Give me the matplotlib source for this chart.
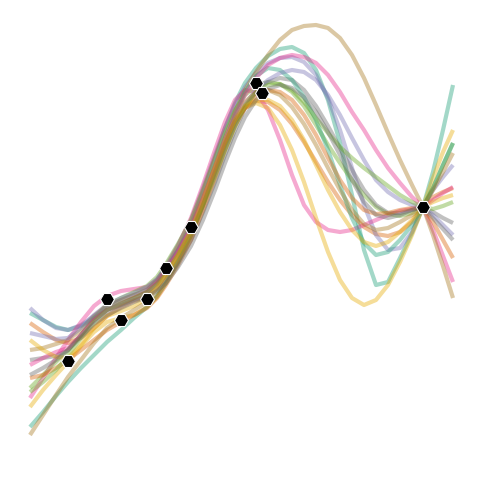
import numpy as np
import matplotlib
matplotlib.use("Agg")
from matplotlib import pyplot as plt

xs = [30, 43, 56, 68, 81, 94, 107, 121, 134, 147, 157, 166, 178, 191, 203, 215,
      225, 235, 245, 256, 268, 280, 292, 304, 316, 328, 340, 352, 364, 376, 388,
      400, 412, 423, 433, 443, 453]

# observed points
obs_x = [68, 107, 121, 147, 166, 191, 256, 262, 423]
obs_y = [361, 299, 320, 299, 268, 227, 83, 93, 207]

# posterior sample curves (screen-style y, larger = lower)
teal_a = [313, 320, 327, 330, 326, 318, 310, 303, 298, 292, 283, 270, 250, 224, 192, 158,
          128, 103, 83, 68, 56, 49, 47, 53, 70, 100, 143, 195, 250, 285, 282,
          258, 233, 207, 172, 130, 85]
orange_a = [323, 332, 340, 343, 338, 328, 316, 307, 301, 296, 287, 275, 255, 230, 200, 168,
            143, 122, 108, 101, 102, 110, 124, 142, 162, 182, 200, 215, 227, 234, 236,
            232, 222, 207, 197, 192, 188]
purple_a = [308, 320, 328, 330, 325, 316, 307, 300, 295, 290, 280, 266, 245, 220, 188, 155,
            128, 105, 87, 73, 63, 58, 57, 62, 75, 98, 130, 168, 205, 235, 250,
            248, 232, 207, 190, 177, 165]
pink_a = [398, 378, 358, 340, 322, 306, 296, 291, 289, 287, 280, 268, 246, 218, 185, 150,
          122, 100, 90, 92, 110, 140, 175, 205, 222, 230, 232, 230, 225, 220, 215,
          211, 209, 207, 230, 256, 282]
green_a = [388, 375, 362, 350, 335, 318, 305, 298, 292, 286, 277, 264, 244, 220, 190, 158,
           132, 110, 95, 86, 82, 84, 92, 106, 125, 145, 163, 180, 195, 207, 214,
           216, 213, 207, 188, 165, 143]
yellow_a = [407, 390, 375, 362, 346, 332, 322, 318, 315, 307, 297, 283, 262, 236, 205, 172,
            145, 122, 108, 103, 108, 125, 150, 182, 218, 252, 280, 298, 305, 300, 285,
            262, 235, 207, 178, 152, 130]
brown_a = [350, 348, 344, 340, 330, 316, 305, 300, 295, 290, 281, 270, 251, 228, 198, 166,
           138, 112, 90, 72, 55, 40, 30, 26, 25, 28, 38, 55, 78, 105, 133,
           160, 185, 207, 235, 266, 298]
gray_a = [360, 358, 356, 350, 335, 320, 310, 305, 300, 296, 289, 279, 262, 240, 212, 182,
          155, 130, 108, 92, 82, 78, 80, 90, 106, 126, 148, 170, 190, 205, 213,
          213, 210, 207, 212, 218, 223]
teal_b = [427, 412, 396, 382, 368, 355, 342, 330, 318, 307, 296, 283, 263, 236, 205, 170,
          142, 115, 92, 76, 68, 70, 80, 97, 120, 150, 185, 218, 243, 255, 252,
          240, 225, 207, 188, 165, 143]
orange_b = [378, 375, 368, 360, 350, 340, 330, 322, 315, 308, 298, 285, 265, 240, 210, 178,
            150, 126, 108, 96, 90, 92, 100, 115, 135, 158, 180, 198, 210, 214, 213,
            210, 208, 207, 222, 240, 258]
purple_b = [333, 336, 339, 338, 328, 315, 305, 298, 293, 287, 279, 268, 250, 228, 200, 172,
            146, 123, 104, 90, 80, 73, 70, 72, 80, 95, 115, 138, 160, 180, 192,
            200, 205, 207, 215, 225, 235]
pink_b = [365, 358, 352, 348, 335, 320, 310, 304, 298, 292, 283, 271, 252, 228, 198, 167,
          140, 115, 95, 78, 65, 58, 55, 57, 63, 75, 92, 112, 130, 150, 168,
          183, 197, 207, 200, 193, 187]
green_b = [392, 382, 370, 356, 338, 322, 310, 304, 298, 292, 284, 273, 255, 232, 205, 176,
           150, 126, 106, 92, 85, 84, 90, 102, 118, 133, 147, 158, 168, 177, 186,
           195, 202, 207, 209, 206, 202]
yellow_b = [340, 350, 357, 358, 345, 328, 316, 311, 306, 298, 288, 275, 255, 231, 200, 168,
            142, 120, 106, 100, 100, 106, 120, 140, 165, 190, 212, 230, 242, 246, 242,
            232, 220, 207, 202, 198, 195]
brown_b = [435, 415, 395, 377, 360, 343, 328, 318, 310, 302, 293, 280, 260, 235, 205, 172,
           144, 120, 102, 92, 90, 95, 107, 124, 145, 168, 190, 210, 224, 230, 228,
           222, 215, 207, 190, 172, 153]
gray_b = [375, 368, 360, 350, 337, 324, 315, 308, 302, 297, 291, 283, 267, 246, 220, 190,
          163, 138, 117, 100, 89, 85, 88, 97, 112, 132, 155, 180, 202, 215, 218,
          215, 210, 207, 218, 229, 240]

samples = [teal_a, orange_a, purple_a, pink_a, green_a, yellow_a, brown_a, gray_a,
           teal_b, orange_b, purple_b, pink_b, green_b, yellow_b, brown_b, gray_b]

colors = plt.get_cmap("Dark2").colors

fig = plt.figure(figsize=(4.8, 4.8), dpi=100)
ax = fig.add_axes([0, 0, 1, 1])

for i, s in enumerate(samples):
    ax.plot(xs, s, color=colors[i % 8], alpha=0.4, lw=3,
            solid_capstyle="butt", solid_joinstyle="round")

ax.plot(obs_x, obs_y, "H", color="black", markersize=10,
        markeredgecolor="white", markeredgewidth=0.8, zorder=5)

ax.set_xlim(0, 480)
ax.set_ylim(480, 0)
ax.axis("off")

fig.savefig("out.png", dpi=100)
